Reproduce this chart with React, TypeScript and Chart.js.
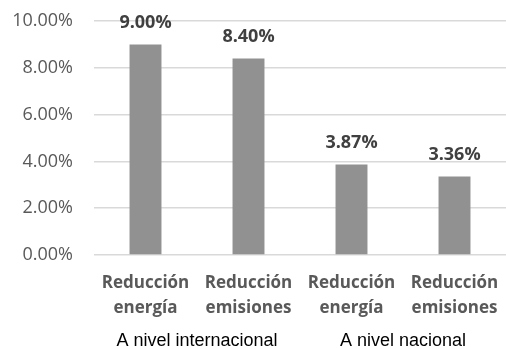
import React, { useEffect, useRef } from "react";
import { Chart, registerables } from "chart.js";

Chart.register(...registerables);

const categories: string[][] = [
  ["Reducción", "energía"],
  ["Reducción", "emisiones"],
  ["Reducción", "energía"],
  ["Reducción", "emisiones"],
];
const groups: string[] = ["A nivel internacional", "A nivel nacional"];
const values: number[] = [9.0, 8.4, 3.87, 3.36];
const yMax = 10;
const yStep = 2;

const BODY_FONT = "'Open Sans', 'Noto Sans', sans-serif";

const dataLabels = {
  id: "dataLabels",
  afterDatasetsDraw(chart: any) {
    const ctx = chart.ctx;
    const meta = chart.getDatasetMeta(0);
    ctx.save();
    ctx.font = `bold 18px ${BODY_FONT}`;
    ctx.fillStyle = "#404040";
    ctx.textAlign = "center";
    ctx.textBaseline = "middle";
    meta.data.forEach((bar: any, i: number) => {
      ctx.fillText(values[i].toFixed(2) + "%", bar.x, bar.y - 22);
    });
    ctx.restore();
  },
};

const noPad = (s: any) => {
  s.paddingLeft = 0;
  s.paddingRight = 0;
  s.paddingTop = 0;
  s.paddingBottom = 0;
};

export default function App() {
  const ref = useRef<HTMLCanvasElement>(null);
  useEffect(() => {
    document.body.style.margin = "0";
    const chart = new Chart(ref.current as HTMLCanvasElement, {
      type: "bar",
      data: {
        labels: categories,
        datasets: [
          {
            data: values,
            backgroundColor: "#919191",
            borderWidth: 0,
            categoryPercentage: 1,
            barPercentage: 0.31,
          },
        ],
      },
      options: {
        animation: false,
        responsive: false,
        maintainAspectRatio: false,
        layout: { padding: { top: 21, right: -5, bottom: 0, left: 0 } },
        plugins: { legend: { display: false }, tooltip: { enabled: false } },
        scales: {
          y: {
            min: 0,
            max: yMax,
            ticks: {
              stepSize: yStep,
              padding: 21,
              color: "#595959",
              font: { family: BODY_FONT, size: 18 },
              callback: (v: any) => Number(v).toFixed(2) + "%",
            },
            grid: { color: "#d9d9d9", lineWidth: 1.5, drawTicks: false },
            border: { display: false },
            afterFit: (s: any) => {
              s.width = 94;
              noPad(s);
            },
          },
          x: {
            type: "category",
            grid: { display: false, drawTicks: false },
            border: { display: false },
            ticks: {
              padding: 15,
              color: "#595959",
              font: { family: BODY_FONT, size: 17, weight: "bold", lineHeight: 1.5 },
              maxRotation: 0,
              autoSkip: false,
            },
            afterFit: (s: any) => {
              s.height = 64;
              noPad(s);
            },
          },
          groups: {
            type: "category",
            position: "bottom",
            labels: groups,
            offset: true,
            grid: { display: false, drawTicks: false },
            border: { display: false },
            ticks: {
              padding: 11,
              color: "#000000",
              font: { family: "'Liberation Sans', Arial, sans-serif", size: 18, lineHeight: 1.2 },
              maxRotation: 0,
              autoSkip: false,
            },
            afterFit: (s: any) => {
              s.height = 30;
              noPad(s);
            },
          },
        },
      } as any,
      plugins: [dataLabels],
    });
    return () => chart.destroy();
  }, []);
  return (
    <div style={{ width: 506, height: 349, background: "#fff" }}>
      <canvas ref={ref} width={506} height={349} style={{ display: "block" }} />
    </div>
  );
}
